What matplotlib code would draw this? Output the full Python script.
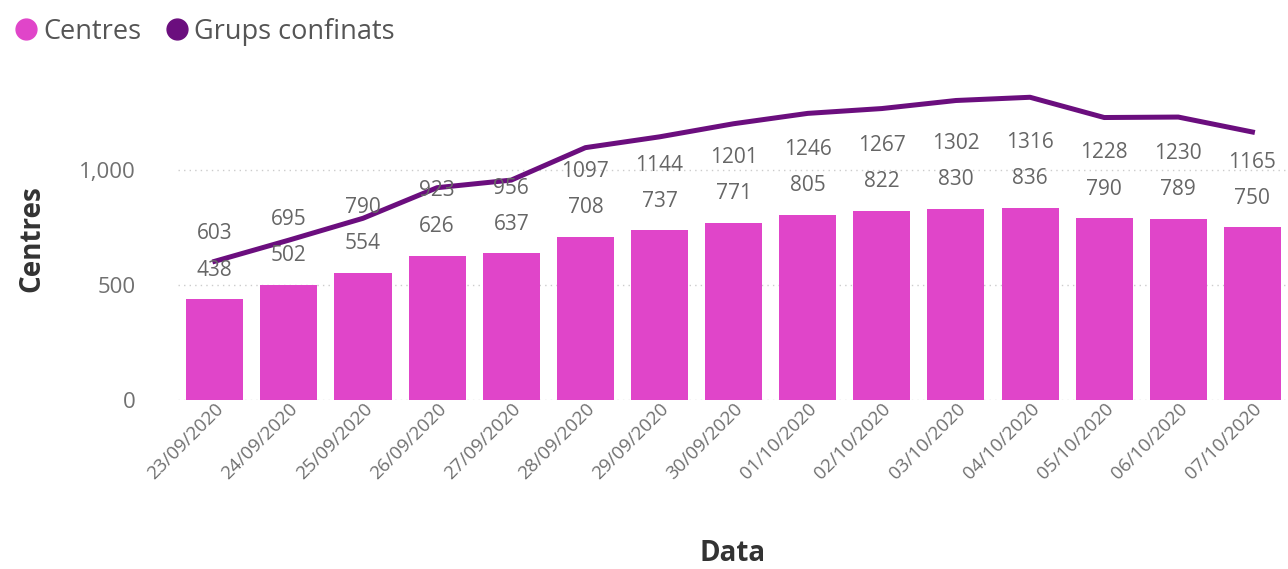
import numpy as np
import matplotlib.pyplot as plt
from matplotlib.lines import Line2D
from matplotlib.transforms import ScaledTranslation

dates = ['23/09/2020', '24/09/2020', '25/09/2020', '26/09/2020', '27/09/2020',
         '28/09/2020', '29/09/2020', '30/09/2020', '01/10/2020', '02/10/2020',
         '03/10/2020', '04/10/2020', '05/10/2020', '06/10/2020', '07/10/2020']
centres = [438, 502, 554, 626, 637, 708, 737, 771, 805, 822, 830, 836, 790, 789, 750]
grups = [603, 695, 790, 923, 956, 1097, 1144, 1201, 1246, 1267, 1302, 1316, 1228, 1230, 1165]

bar_color = '#E045C9'
line_color = '#6B0E7E'
plt.rcParams['font.family'] = ['Open Sans', 'DejaVu Sans']

fig = plt.figure(figsize=(12.88, 5.69), dpi=100)
ax = fig.add_axes([0.138, 0.297, 0.862, 0.566])

x = np.arange(len(dates))
ax.bar(x, centres, width=0.77, color=bar_color, zorder=2)
ax.plot(x, grups, color=line_color, lw=3.6, zorder=3, solid_joinstyle='round')

#Data labels (bar label just above bar, line label above that)
for xi, c, g in zip(x, centres, grups):
    ax.annotate(str(c), (xi, c), xytext=(0, 21), textcoords='offset points',
                ha='center', va='center', fontsize=15, color='#666666')
    ax.annotate(str(g), (xi, c), xytext=(0, 47), textcoords='offset points',
                ha='center', va='center', fontsize=15, color='#666666')

ax.set_xlim(-0.5, 14.48)
ax.set_ylim(0, 1400)
ax.set_yticks([0, 500, 1000])
ax.set_yticklabels(['0', '500', '1,000'])
ax.yaxis.grid(True, linestyle=(0, (1, 3)), color='#cccccc', lw=1, zorder=0)
ax.set_xticks(x)
ax.set_xticklabels(dates, rotation=45, ha='right', rotation_mode='anchor')
shift = ScaledTranslation(-6 / 72, 0, fig.dpi_scale_trans)
for lbl in ax.get_xticklabels():
    lbl.set_transform(lbl.get_transform() + shift)
ax.tick_params(axis='both', length=0, labelcolor='#707070')
ax.tick_params(axis='y', pad=30, labelsize=16)
ax.tick_params(axis='x', pad=0, labelsize=13.5)
for s in ax.spines.values():
    s.set_visible(False)

ax.set_ylabel('Centres', fontsize=20, fontweight='bold', color='#333333', labelpad=24)
ax.set_xlabel('Data', fontsize=20, fontweight='bold', color='#333333', labelpad=40)

handles = [Line2D([], [], marker='o', ls='', color=bar_color, markersize=15),
           Line2D([], [], marker='o', ls='', color=line_color, markersize=15)]
fig.legend(handles, ['Centres', 'Grups confinats'], loc='upper left',
           bbox_to_anchor=(-0.02, 1.012), ncol=2, frameon=False, fontsize=19.5,
           handletextpad=-0.35, columnspacing=0.3, labelcolor='#555555')

plt.savefig('out.png')
